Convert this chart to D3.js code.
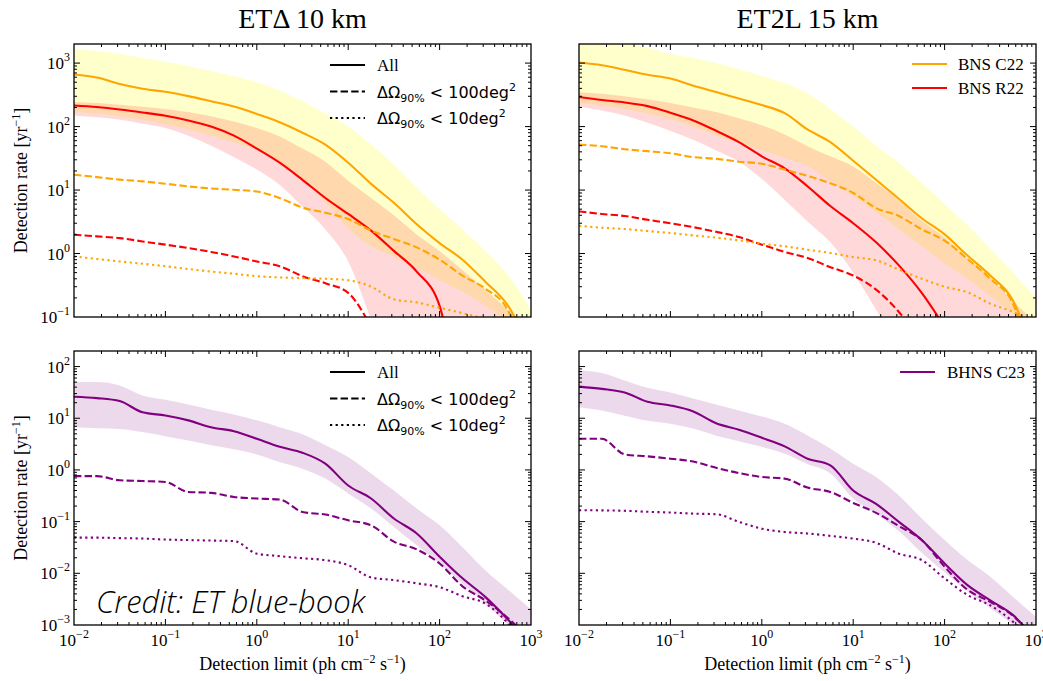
<!DOCTYPE html>
<html>
<head>
<meta charset="utf-8">
<script src="https://cdn.jsdelivr.net/npm/d3@7"></script>
<style>
body { margin: 0; background: #fff; }
text { font-family: "Liberation Serif", "Times New Roman", serif; fill: #000; }
</style>
</head>
<body>
<svg id="chart" width="1043" height="681"></svg>
<script>
// detection limit grid (ph cm^-2 s^-1), quarter-decade steps
var detLimit = [0.01, 0.0178, 0.0316, 0.0562, 0.1, 0.178, 0.316, 0.562, 1, 1.78, 3.16, 5.62, 10, 17.8, 31.6, 56.2, 100, 178, 316, 562, 1000];

// ETΔ 10 km, BNS
var c22Etd      = [661, 593, 467, 394, 353, 302, 251, 207, 158, 117, 80, 52, 27, 12.5, 6.3, 2.9, 1.46, 0.8, 0.36, 0.15, 0.03];
var c22Etd100   = [17.4, 16.0, 14.6, 13.7, 12.6, 11.4, 10.6, 10.1, 9.5, 7.5, 5.3, 4.4, 3.5, 2.3, 1.7, 1.25, 0.8, 0.45, 0.28, 0.125, 0.01];
var c22Etd10    = [0.90, 0.82, 0.75, 0.69, 0.63, 0.57, 0.52, 0.48, 0.44, 0.42, 0.41, 0.40, 0.38, 0.30, 0.19, 0.17, 0.14, 0.115, 0.095, 0.08, 0.07];
var r22Etd      = [215, 203, 186, 167, 148, 125, 100, 72, 45, 27, 14.5, 7.5, 4.2, 2.3, 1.1, 0.52, 0.15, 0.001, null, null, null];
var r22Etd100   = [1.98, 1.86, 1.75, 1.55, 1.38, 1.22, 1.06, 0.90, 0.75, 0.63, 0.44, 0.34, 0.24, 0.07, null, null, null, null, null, null, null];
var c22EtdHi    = [1700, 1550, 1400, 1200, 1050, 900, 750, 620, 500, 370, 250, 160, 100, 52, 25, 11, 5, 2.4, 1.1, 0.45, 0.13];
var c22EtdLo    = [169, 160, 145, 128, 110, 90, 72, 56, 42, 28, 15, 6.5, 2.5, 1.3, 0.9, 0.6, 0.38, 0.25, 0.15, 0.08, 0.04];
var r22EtdHi    = [245, 235, 220, 205, 190, 170, 145, 120, 95, 70, 45, 28, 14, 7.5, 4, 2, 1.1, 0.55, 0.27, 0.13, 0.06];
var r22EtdLo    = [150, 140, 128, 112, 95, 72, 50, 33, 21, 12, 5.5, 2.4, 0.75, 0.09, 0.01, 0.001, 0.001, 0.001, 0.001, 0.001, 0.001];

// ET2L 15 km, BNS
var c22L2       = [1020, 925, 785, 655, 570, 440, 350, 276, 218, 163, 90, 57, 29, 14.5, 7.3, 3.6, 2.0, 0.93, 0.45, 0.18, 0.02];
var c22L2100    = [52, 49, 44, 41, 38, 33, 31, 28, 26, 21, 16.7, 12.8, 9.0, 5.2, 3.9, 2.4, 1.6, 0.82, 0.40, 0.16, 0.01];
var c22L210     = [2.74, 2.55, 2.43, 2.26, 2.1, 1.93, 1.78, 1.61, 1.43, 1.30, 1.15, 1.02, 0.88, 0.78, 0.56, 0.40, 0.30, 0.245, 0.162, 0.12, 0.075];
var r22L2       = [292, 262, 240, 210, 165, 125, 86, 57, 34, 22, 11.5, 5.6, 3.0, 1.5, 0.65, 0.24, 0.07, null, null, null, null];
var r22L2100    = [4.6, 4.2, 3.9, 3.4, 3.0, 2.6, 2.2, 1.82, 1.38, 1.06, 0.85, 0.61, 0.45, 0.27, 0.12, 0.04, null, null, null, null, null];
var c22L2Hi     = [2600, 2300, 2000, 1750, 1400, 1200, 1000, 800, 630, 480, 335, 190, 100, 50, 27, 13, 6, 2.8, 1.2, 0.5, 0.2];
var c22L2Lo     = [234, 215, 190, 160, 130, 100, 72, 55, 42, 32, 24, 14, 8, 4.5, 2.4, 1.3, 0.7, 0.4, 0.21, 0.115, 0.05];
var r22L2Hi     = [349, 330, 300, 270, 235, 200, 169, 135, 105, 75, 49, 34, 23.6, 13, 7.0, 3.3, 1.8, 0.85, 0.42, 0.18, 0.08];
var r22L2Lo     = [205, 180, 150, 115, 85, 62, 42, 28, 15, 7, 3.2, 1.5, 0.5, 0.13, 0.03, 0.005, 0.001, 0.001, 0.001, 0.001, 0.001];

// ETΔ 10 km, BHNS
var c23Etd      = [26, 24.5, 21.5, 13, 11.3, 9.1, 6.7, 5.6, 4.0, 2.8, 2.15, 1.32, 0.50, 0.28, 0.115, 0.059, 0.021, 0.008, 0.0035, 0.00126, 0.0004];
var c23Etd100   = [0.76, 0.76, 0.63, 0.61, 0.585, 0.375, 0.36, 0.30, 0.28, 0.267, 0.154, 0.137, 0.106, 0.085, 0.041, 0.029, 0.0155, 0.0056, 0.003, 0.00135, 0.0005];
var c23Etd10    = [0.049, 0.049, 0.048, 0.047, 0.045, 0.044, 0.043, 0.042, 0.024, 0.0215, 0.0196, 0.018, 0.0144, 0.0083, 0.0074, 0.0064, 0.0054, 0.0036, 0.0026, 0.00108, 0.0003];
var c23EtdHi    = [50, 50, 43, 27.6, 22.7, 18.4, 14.6, 11.8, 9.1, 6.7, 4.9, 3.0, 1.78, 0.85, 0.40, 0.18, 0.085, 0.032, 0.0115, 0.0048, 0.002];
var c23EtdLo    = [6.7, 6.4, 6.2, 5.4, 4.5, 3.7, 3.0, 2.5, 2.0, 1.42, 1.06, 0.68, 0.35, 0.18, 0.079, 0.035, 0.0155, 0.0063, 0.0026, 0.001, 0.0004];

// ET2L 15 km, BHNS
var c23L2       = [41, 37, 31.5, 20.8, 17.7, 13.5, 8.0, 6.0, 4.2, 2.86, 1.65, 1.23, 0.40, 0.22, 0.099, 0.044, 0.0155, 0.0059, 0.003, 0.00155, 0.0005];
var c23L2100    = [4.0, 4.0, 2.0, 1.83, 1.65, 1.45, 1.1, 0.87, 0.73, 0.68, 0.455, 0.375, 0.23, 0.148, 0.082, 0.044, 0.0134, 0.0048, 0.0028, 0.0015, 0.0005];
var c23L210     = [0.166, 0.165, 0.162, 0.155, 0.15, 0.143, 0.139, 0.099, 0.073, 0.063, 0.059, 0.053, 0.047, 0.039, 0.024, 0.018, 0.008, 0.0038, 0.0024, 0.00115, 0.0004];
var c23L2Hi     = [84, 75, 54, 38.7, 31.5, 24, 18.5, 14.1, 10.8, 7.8, 4.65, 2.6, 1.32, 0.73, 0.32, 0.115, 0.044, 0.018, 0.0086, 0.0035, 0.00145];
var c23L2Lo     = [16.4, 14.1, 11.2, 8.9, 7.8, 6.3, 4.6, 3.6, 2.8, 2.06, 1.3, 0.85, 0.28, 0.14, 0.065, 0.025, 0.0105, 0.0045, 0.0021, 0.001, 0.0004];

var xTickExp = [-2, -1, 0, 1, 2, 3];

var ORANGE = "#ffa500", RED = "#ff0000", PURPLE = "#800080";
var DASH = "7.4,3.2", DOT = "2.2,3.4";
var LW = 2.1;

var svg = d3.select("#chart");

var panels = [
  { id: "tl", left: 74, right: 531, top: 44, bottom: 317, yDom: [0.1, 2000], yExp: [-1, 0, 1, 2, 3], yLab: true, xLab: false,
    bands: [ { lo: c22EtdLo, hi: c22EtdHi, color: "yellow", op: 0.2 }, { lo: r22EtdLo, hi: r22EtdHi, color: RED, op: 0.15 } ],
    lines: [ { v: c22Etd, c: ORANGE }, { v: r22Etd, c: RED }, { v: c22Etd100, c: ORANGE, d: DASH }, { v: r22Etd100, c: RED, d: DASH }, { v: c22Etd10, c: ORANGE, d: DOT } ] },
  { id: "tr", left: 579, right: 1036, top: 44, bottom: 317, yDom: [0.1, 2000], yExp: [-1, 0, 1, 2, 3], yLab: false, xLab: false,
    bands: [ { lo: c22L2Lo, hi: c22L2Hi, color: "yellow", op: 0.2 }, { lo: r22L2Lo, hi: r22L2Hi, color: RED, op: 0.15 } ],
    lines: [ { v: c22L2, c: ORANGE }, { v: r22L2, c: RED }, { v: c22L2100, c: ORANGE, d: DASH }, { v: r22L2100, c: RED, d: DASH }, { v: c22L210, c: ORANGE, d: DOT } ] },
  { id: "bl", left: 74, right: 531, top: 351, bottom: 625, yDom: [0.001, 200], yExp: [-3, -2, -1, 0, 1, 2], yLab: true, xLab: true,
    bands: [ { lo: c23EtdLo, hi: c23EtdHi, color: PURPLE, op: 0.15 } ],
    lines: [ { v: c23Etd, c: PURPLE }, { v: c23Etd100, c: PURPLE, d: DASH }, { v: c23Etd10, c: PURPLE, d: DOT } ] },
  { id: "br", left: 579, right: 1036, top: 351, bottom: 625, yDom: [0.001, 200], yExp: [-3, -2, -1, 0, 1, 2], yLab: false, xLab: true,
    bands: [ { lo: c23L2Lo, hi: c23L2Hi, color: PURPLE, op: 0.15 } ],
    lines: [ { v: c23L2, c: PURPLE }, { v: c23L2100, c: PURPLE, d: DASH }, { v: c23L210, c: PURPLE, d: DOT } ] }
];

function powLabel(t, exp) {
  t.append("tspan").text("10");
  t.append("tspan").attr("dy", -8).attr("font-size", 12).text(exp < 0 ? "\u2212" + (-exp) : String(exp));
}

function isMajor(v) {
  var l = Math.log10(v);
  return Math.abs(l - Math.round(l)) < 1e-6;
}

panels.forEach(function(p) {
  var x = d3.scaleLog().domain([0.01, 1000]).range([p.left, p.right]);
  var y = d3.scaleLog().domain(p.yDom).range([p.bottom, p.top]);
  var g = svg.append("g");

  g.append("clipPath").attr("id", "clip-" + p.id)
    .append("rect").attr("x", p.left).attr("y", p.top)
    .attr("width", p.right - p.left).attr("height", p.bottom - p.top);

  var body = g.append("g").attr("clip-path", "url(#clip-" + p.id + ")");

  p.bands.forEach(function(b) {
    var area = d3.area()
      .x(function(d, i) { return x(detLimit[i]); })
      .y0(function(d, i) { return y(b.lo[i]); })
      .y1(function(d, i) { return y(b.hi[i]); })
      .curve(d3.curveMonotoneX);
    body.append("path").attr("d", area(detLimit))
      .attr("fill", b.color).attr("fill-opacity", b.op).attr("stroke", "none");
  });

  p.lines.forEach(function(s) {
    var line = d3.line()
      .defined(function(d) { return d != null; })
      .x(function(d, i) { return x(detLimit[i]); })
      .y(function(d) { return y(d); })
      .curve(d3.curveMonotoneX);
    body.append("path").attr("d", line(s.v))
      .attr("fill", "none").attr("stroke", s.c).attr("stroke-width", LW)
      .attr("stroke-dasharray", s.d || null);
  });

  // frame
  g.append("rect").attr("x", p.left).attr("y", p.top)
    .attr("width", p.right - p.left).attr("height", p.bottom - p.top)
    .attr("fill", "none").attr("stroke", "#000").attr("stroke-width", 1.3);

  // ticks on all four sides, pointing in
  x.ticks().forEach(function(v) {
    var len = isMajor(v) ? 6 : 3, xx = x(v);
    if (xx <= p.left + 0.5 || xx >= p.right - 0.5) return;
    g.append("line").attr("x1", xx).attr("x2", xx).attr("y1", p.bottom).attr("y2", p.bottom - len).attr("stroke", "#000");
    g.append("line").attr("x1", xx).attr("x2", xx).attr("y1", p.top).attr("y2", p.top + len).attr("stroke", "#000");
  });
  y.ticks().forEach(function(v) {
    var len = isMajor(v) ? 6 : 3, yy = y(v);
    if (yy >= p.bottom - 0.5 || yy <= p.top + 0.5) return;
    g.append("line").attr("y1", yy).attr("y2", yy).attr("x1", p.left).attr("x2", p.left + len).attr("stroke", "#000");
    g.append("line").attr("y1", yy).attr("y2", yy).attr("x1", p.right).attr("x2", p.right - len).attr("stroke", "#000");
  });

  if (p.yLab) {
    p.yExp.forEach(function(e) {
      var t = g.append("text").attr("x", p.left - 4).attr("y", y(Math.pow(10, e)) + 6)
        .attr("text-anchor", "end").attr("font-size", 17);
      powLabel(t, e);
    });
    var yl = g.append("text")
      .attr("transform", "translate(27," + ((p.top + p.bottom) / 2) + ") rotate(-90)")
      .attr("text-anchor", "middle").attr("font-size", 18);
    yl.append("tspan").text("Detection rate [yr");
    yl.append("tspan").attr("dy", -7).attr("font-size", 12).text("\u22121");
    yl.append("tspan").attr("dy", 7).text("]");
  }
  if (p.xLab) {
    xTickExp.forEach(function(e) {
      var t = g.append("text").attr("x", x(Math.pow(10, e))).attr("y", p.bottom + 21)
        .attr("text-anchor", "middle").attr("font-size", 17);
      powLabel(t, e);
    });
    var xl = g.append("text").attr("x", (p.left + p.right) / 2).attr("y", 670)
      .attr("text-anchor", "middle").attr("font-size", 18);
    xl.append("tspan").text("Detection limit (ph cm");
    xl.append("tspan").attr("dy", -7).attr("font-size", 12).text("\u22122");
    xl.append("tspan").attr("dy", 7).text(" s");
    xl.append("tspan").attr("dy", -7).attr("font-size", 12).text("\u22121");
    xl.append("tspan").attr("dy", 7).text(")");
  }
});

// titles
svg.append("text").attr("x", 302.5).attr("y", 28).attr("text-anchor", "middle").attr("font-size", 28).text("ET\u0394 10 km");
svg.append("text").attr("x", 807.5).attr("y", 28).attr("text-anchor", "middle").attr("font-size", 28).text("ET2L 15 km");

// linestyle legends (left panels)
var styleLegend = [ { label: "All", d: null }, { label: "100", d: DASH }, { label: "10", d: DOT } ];
[44, 351].forEach(function(top) {
  styleLegend.forEach(function(s, i) {
    var yy = top + 21 + i * 26.5;
    svg.append("line").attr("x1", 330).attr("x2", 365).attr("y1", yy).attr("y2", yy)
      .attr("stroke", "#000").attr("stroke-width", LW).attr("stroke-dasharray", s.d);
    var t = svg.append("text").attr("x", 377).attr("y", yy + 6).attr("font-size", 17);
    if (s.label === "All") {
      t.text("All");
    } else {
      t.style("font-family", "'DejaVu Sans', sans-serif").attr("font-size", 16);
      t.append("tspan").text("\u0394\u03a9");
      t.append("tspan").attr("dy", 4).attr("font-size", 11).text("90%");
      t.append("tspan").attr("dy", -4).text(" < " + s.label + "deg");
      t.append("tspan").attr("dy", -7).attr("font-size", 11).text("2");
    }
  });
});

// colour legends (right panels)
var bnsLegend = [ { label: "BNS C22", c: ORANGE }, { label: "BNS R22", c: RED } ];
bnsLegend.forEach(function(s, i) {
  var yy = 64 + i * 24;
  svg.append("line").attr("x1", 912).attr("x2", 947).attr("y1", yy).attr("y2", yy).attr("stroke", s.c).attr("stroke-width", LW);
  svg.append("text").attr("x", 958).attr("y", yy + 6).attr("font-size", 17).text(s.label);
});
svg.append("line").attr("x1", 900).attr("x2", 935).attr("y1", 372).attr("y2", 372).attr("stroke", PURPLE).attr("stroke-width", LW);
svg.append("text").attr("x", 947).attr("y", 378).attr("font-size", 17).text("BHNS C23");

// credit
svg.append("text").attr("x", 96).attr("y", 613)
  .style("font-family", "'Open Sans', 'Noto Sans', sans-serif").style("font-style", "italic").style("font-weight", 300)
  .attr("font-size", 31).text("Credit: ET blue-book");
</script>
</body>
</html>
